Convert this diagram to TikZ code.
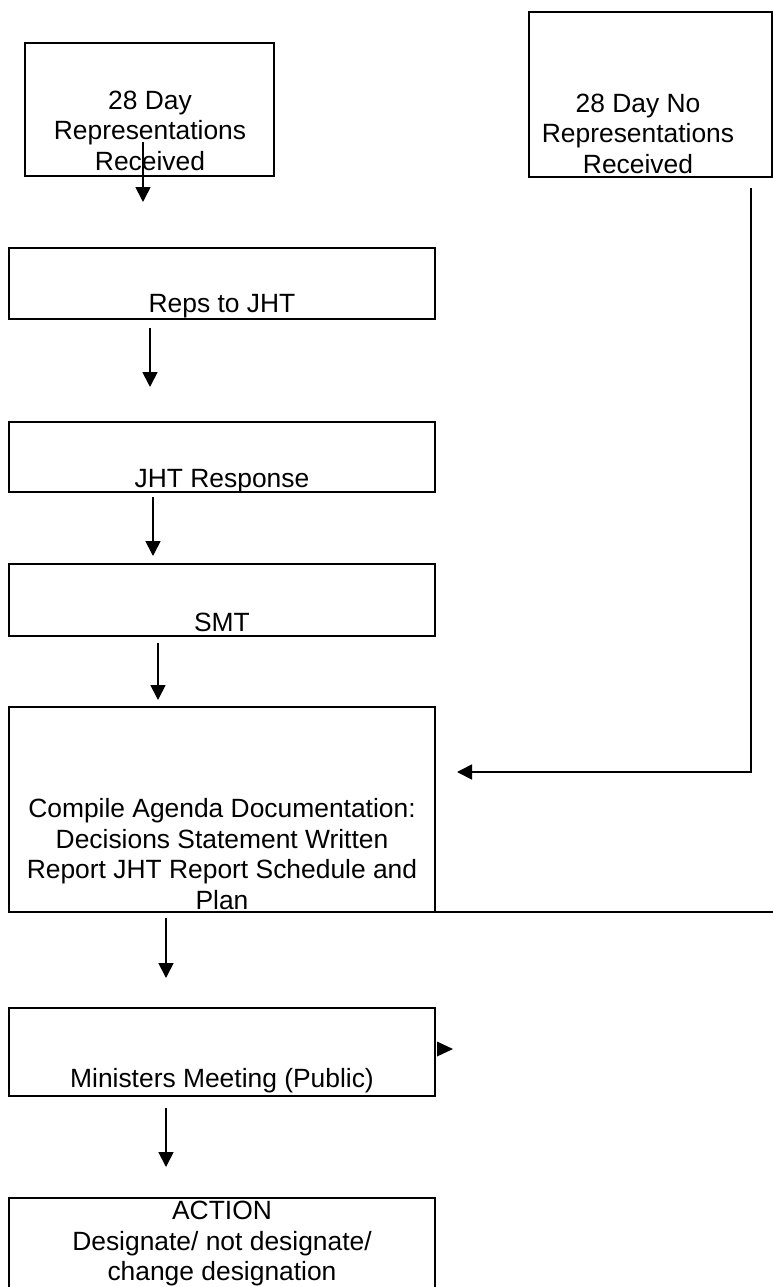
\documentclass[tikz,border=0pt]{standalone}
\usepackage{fontspec}
\setmainfont{Liberation Sans}
\usetikzlibrary{arrows.meta}
\tikzset{
  boxshape/.style={draw=black, line width=2pt, rectangle, inner sep=0pt},
  boxtext/.style={align=center, inner sep=0pt, font=\fontsize{26.4}{30.5}\selectfont},
  flowarrow/.style={line width=1.7pt, -{Triangle[length=15pt,width=15pt]}},
}
\begin{document}
\begin{tikzpicture}[x=1pt,y=-1pt]
\useasboundingbox (0,0) rectangle (773,1287);
% boxes
\node[boxshape, minimum width=249pt, minimum height=132pt] (b1) at (149.5,109.5) {};
\node[boxshape, minimum width=243pt, minimum height=165pt] (b2) at (650.5,94.5) {};
\node[boxshape, minimum width=426pt, minimum height=71pt] (b3) at (222,283.5) {};
\node[boxshape, minimum width=426pt, minimum height=70pt] (b4) at (222,457) {};
\node[boxshape, minimum width=426pt, minimum height=72pt] (b5) at (222,600) {};
\node[boxshape, minimum width=426pt, minimum height=205pt] (b6) at (222,809.5) {};
\node[boxshape, minimum width=426pt, minimum height=88pt] (b7) at (222,1052) {};
\node[boxshape, minimum width=426pt, minimum height=112pt] (b8) at (222,1254) {};
% texts
\node[boxtext] (t1) at (150,130.5) {28 Day\\Representations\\Received};
\node[boxtext] (t2) at (638,133.5) {28 Day No\\Representations\\Received};
\node[boxtext] (t3) at (222,306) {Reps to JHT};
\node[boxtext] (t4) at (222,481) {JHT Response};
\node[boxtext] (t5) at (222,622) {SMT};
\node[boxtext] (t6) at (222,854) {Compile Agenda Documentation:\\Decisions Statement Written\\Report JHT Report Schedule and\\Plan};
\node[boxtext] (t7) at (222,1081) {Ministers Meeting (Public)};
\node[boxtext] (t8) at (222,1244) {ACTION\\Designate/ not designate/\\change designation};
% connector end points
\coordinate (a1s) at (143,142); \coordinate (a1e) at (143,202);
\coordinate (a2s) at (150,328); \coordinate (a2e) at (150,387);
\coordinate (a3s) at (153,497); \coordinate (a3e) at (153,556);
\coordinate (a4s) at (158,643); \coordinate (a4e) at (158,700);
\coordinate (a5s) at (166,918); \coordinate (a5e) at (166,978);
\coordinate (a6s) at (166,1108); \coordinate (a6e) at (166,1167);
\coordinate (ls) at (751,188); \coordinate (lc) at (751,772); \coordinate (le) at (457,772);
\coordinate (hs) at (435,912); \coordinate (he) at (773,912);
\coordinate (ms) at (437,1049); \coordinate (me) at (453,1049);
% connectors
\draw[flowarrow] (a1s) -- (a1e);
\draw[flowarrow] (a2s) -- (a2e);
\draw[flowarrow] (a3s) -- (a3e);
\draw[flowarrow] (a4s) -- (a4e);
\draw[flowarrow] (a5s) -- (a5e);
\draw[flowarrow] (a6s) -- (a6e);
\draw[flowarrow] (ls) -- (lc) -- (le);
\draw[line width=2pt] (hs) -- (he);
\fill (ms) ++(0,-7.5) -- (me) -- ++(-16,7.5) -- cycle;
\end{tikzpicture}
\end{document}
